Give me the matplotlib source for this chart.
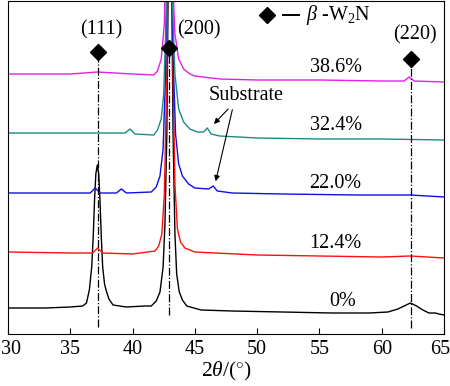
#!/usr/bin/env python3
# -*- coding: utf-8 -*-

"""
XRD patterns of W2N films for several N2 contents, stacked with offsets.
"""

import matplotlib
matplotlib.use('Agg')
from matplotlib import pyplot as plt
from matplotlib.transforms import ScaledTranslation

plt.rcParams['font.family'] = ['Liberation Serif', 'DejaVu Serif']
plt.rcParams['mathtext.fontset'] = 'custom'
plt.rcParams['mathtext.rm'] = 'Liberation Serif'
plt.rcParams['mathtext.it'] = 'Liberation Serif:italic'

# DATA ######################################################################

# 0 %
x_0 = [30, 33, 35, 36.0, 36.3, 36.53, 36.72, 36.84, 36.95, 37.05, 37.17,
       37.28, 37.38, 37.49, 37.6, 37.75, 37.87, 38.1, 38.43, 39.5, 41.0,
       41.5, 41.9, 42.2, 42.45, 42.6, 42.75, 42.88, 43.0, 43.12, 43.25, 43.4,
       43.54, 43.75, 44.0, 44.35, 45.5, 48, 52, 56, 59, 60.5, 61.3, 61.8,
       62.3, 62.8, 63.3, 63.8, 64.3, 64.6, 65]
y_0 = [26, 26, 27, 28, 31, 44, 67, 97, 135, 160, 169,
       160, 135, 97, 67, 50, 44, 35, 29, 27, 28,
       28, 33, 42, 67, 110, 200, 380, 450, 380, 200, 100,
       60, 42, 34, 28, 24, 23, 22, 21, 21, 22, 25, 28,
       31, 28, 24, 21, 21, 20, 19]

# 12.4 %
x_12 = [30, 35, 36.8, 37.2, 37.6, 40, 41.8, 42.1, 42.35, 42.55, 42.75, 42.9,
        43.1, 43.25, 43.4, 43.6, 43.85, 44.2, 45, 50, 55, 60, 62.3, 65]
y_12 = [82, 81, 81, 86, 81, 80, 83, 88, 100, 140, 260, 450,
        450, 260, 150, 105, 92, 86, 82, 79, 78, 77, 78, 76]

# 22.0 %
x_22 = [30, 34, 36.6, 37.0, 37.4, 38.7, 39.1, 39.5, 41.5, 41.9, 42.2, 42.45,
        42.65, 42.85, 43.05, 43.25, 43.45, 43.7, 44.0, 44.5, 45.0, 46.1,
        46.48, 46.8, 48, 52, 58, 62.3, 65]
y_22 = [141, 141, 141, 146, 141, 141, 145, 141, 142, 147, 158, 185,
        260, 450, 450, 280, 200, 170, 158, 150, 146, 145,
        148, 143, 141, 140, 139, 139, 137]

# 32.4 %
x_32 = [30, 35, 37.2, 39.4, 39.8, 40.2, 41.7, 42.0, 42.3, 42.5, 42.7, 42.85,
        43.05, 43.2, 43.4, 43.7, 44.1, 44.6, 45.2, 45.7, 46.0, 46.3, 47, 50,
        55, 60, 65]
y_32 = [201, 201, 201, 201, 205, 200, 199, 204, 215, 240, 320, 450,
        450, 330, 260, 225, 212, 205, 202, 202, 206, 200, 198, 196,
        195, 195, 194]

# 38.6 %
x_38 = [30, 35, 37.2, 40, 41.7, 42.0, 42.3, 42.55, 42.75, 43.0, 43.2, 43.4,
        43.7, 44.1, 44.6, 45, 47, 50, 55, 60, 61.8, 62.2, 62.6, 65]
y_38 = [260, 260, 262, 260, 259, 263, 275, 310, 450, 450, 360, 300,
        275, 265, 260, 258, 255, 254, 254, 253, 253, 257, 253, 252]

series_x = [x_0, x_12, x_22, x_32, x_38]
series_y = [y_0, y_12, y_22, y_32, y_38]
series_labels = ['0%', '12.4%', '22.0%', '32.4%', '38.6%']
series_colors = ['black', '#ff1010', '#1010e0', '#1a8c82', '#e81ee8']
label_y = [32, 91, 151, 208, 266]

# W2N reflections
hkl_labels = ['(111)', '(200)', '(220)']
hkl_pos = [37.22, 42.95, 62.35]

x_ticks = [30, 35, 40, 45, 50, 55, 60, 65]

# PLOT ######################################################################

fig = plt.figure(figsize=(4.5, 3.86), dpi=100)
ax = fig.add_axes([8 / 450, 52 / 386, 436 / 450, 333 / 386])

for xs, ys, col in zip(series_x, series_y, series_colors):
    ax.plot(xs, ys, color=col, lw=1.0)

for lab, ly in zip(series_labels, label_y):
    lx = 56.9 if lab == '0%' else 56.3
    ax.text(lx, ly, lab, ha='center', va='center', fontsize=14.5)

# reflection markers with dash-dot guide lines
line_spans = [(7, 274), (19, 281), (6, 268)]
diam_y = [282, 286, 275]
text_pos = [(37.5, 304), (45.3, 304), (62.7, 299)]
for pos, lab, (y0, y1), dy, (tx, ty) in zip(hkl_pos, hkl_labels, line_spans,
                                             diam_y, text_pos):
    ax.plot([pos, pos], [y0, y1], color='black', lw=0.9, ls='-.')
    ax.plot(pos, dy, marker='D', ms=8.5, color='black', ls='none')
    ax.text(tx, ty, lab, ha='center', va='center', fontsize=14.5)

# legend drawn by hand
ax.plot(50.8, 319, marker='D', ms=8, color='black', ls='none')
ax.plot([52.1, 53.4], [319, 319], color='black', lw=1.4)
ax.text(53.9, 319, r'$\it{\beta}$ -W$_2$N', ha='left', va='center',
        fontsize=14.5)

# substrate annotation
ax.text(49.1, 239, 'Substrate', ha='center', va='center', fontsize=14.5)
ax.annotate('', xy=(46.38, 208), xytext=(47.82, 227),
            arrowprops=dict(arrowstyle='-|>', color='black', lw=0.8,
                            mutation_scale=8))
ax.annotate('', xy=(46.62, 150), xytext=(48.06, 227),
            arrowprops=dict(arrowstyle='-|>', color='black', lw=0.8,
                            mutation_scale=8))

ax.set_xlim(30, 65)
ax.set_ylim(0, 333)
ax.set_xticks(x_ticks)
ax.set_yticks([])
ax.tick_params(axis='x', direction='in', length=4, labelsize=14.5, pad=4)
ax.set_xlabel(r'2$\it{\theta}$/($^{\circ}$)', fontsize=15.5, labelpad=1)

# keep the end labels inside the figure
tick_labels = ax.get_xticklabels()
tick_labels[0].set_transform(tick_labels[0].get_transform()
                             + ScaledTranslation(3 / 100, 0, fig.dpi_scale_trans))
tick_labels[-1].set_transform(tick_labels[-1].get_transform()
                              + ScaledTranslation(-4 / 100, 0, fig.dpi_scale_trans))

fig.savefig('out.png', dpi=100)
